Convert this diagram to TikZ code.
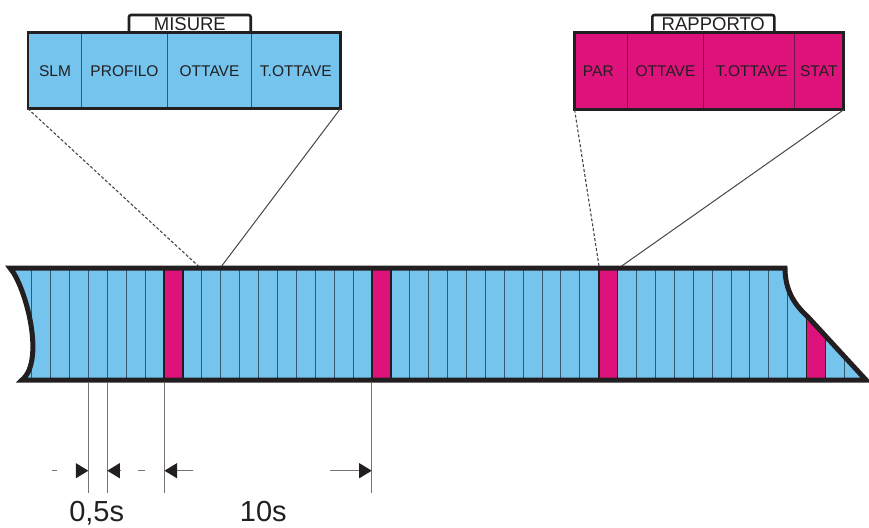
\documentclass[tikz,border=0pt]{standalone}
\usepackage{fontspec}
\setmainfont{Liberation Sans}
\usetikzlibrary{arrows.meta}
\definecolor{bandblue}{RGB}{116,196,238}
\definecolor{mag}{RGB}{221,18,122}
\definecolor{slotline}{RGB}{52,88,108}
\definecolor{magline}{RGB}{115,20,75}
\definecolor{ink}{RGB}{35,31,32}
\definecolor{dimgray}{RGB}{115,115,115}
\definecolor{fangray}{RGB}{70,70,70}
\tikzset{
  cellblue/.style={draw=slotline, line width=0.8pt, fill=bandblue, inner sep=0pt, minimum height=75pt, text=ink, font=\fontsize{15.5}{18}\selectfont},
  cellmag/.style={draw=magline, line width=0.8pt, fill=mag, inner sep=0pt, minimum height=76pt, text=ink, font=\fontsize{15.5}{18}\selectfont},
  tabbox/.style={draw=ink, line width=2.6pt, fill=white, rounded corners=2pt, inner sep=0pt, minimum height=18.3pt, text=ink, font=\fontsize{18.5}{20}\selectfont},
  boxframe/.style={draw=ink, line width=2.8pt},
  fandash/.style={draw=fangray, line width=1.1pt, dash pattern=on 3pt off 2pt},
  fansolid/.style={draw=fangray, line width=1pt},
  dimline/.style={draw=dimgray, line width=1pt},
  dimarrow/.style={draw=dimgray, line width=1pt, -{Triangle[length=12.5pt,width=15pt,color=ink,fill=ink]}},
  dimlabel/.style={anchor=base, text=ink, inner sep=0pt, font=\fontsize{29}{32}\selectfont},
  pinkslot/.style={fill=mag, draw=ink, line width=1.6pt},
  bandborder/.style={draw=ink, line width=5pt, line join=miter}
}
\begin{document}
\begin{tikzpicture}[x=1pt,y=-1pt]
\useasboundingbox (0,0) rectangle (869,527);

% ---------- MISURE box ----------
\node[tabbox, minimum width=121.7pt] (tabmis) at (189.85,24.2) {MISURE};
\node[cellblue, minimum width=53.4pt] (slm) at (55.0,70.8) {SLM};
\node[cellblue, minimum width=85.6pt] (profilo) at (124.5,70.8) {PROFILO};
\node[cellblue, minimum width=84.4pt] (ottave) at (209.5,70.8) {OTTAVE};
\node[cellblue, minimum width=88.3pt] (tottave) at (295.85,70.8) {T.OTTAVE};
\draw[boxframe] (slm.north west) rectangle (tottave.south east);

% ---------- RAPPORTO box ----------
\node[tabbox, minimum width=122pt] (tabrap) at (713.3,24.2) {RAPPORTO};
\node[cellmag, minimum width=52.7pt] (par) at (601.35,71.3) {\hspace*{-6pt}PAR};
\node[cellmag, minimum width=75.6pt] (ottaver) at (665.5,71.3) {OTTAVE};
\node[cellmag, minimum width=91pt] (tottaver) at (748.8,71.3) {\hspace*{6pt}T.OTTAVE};
\node[cellmag, minimum width=49pt] (stat) at (818.8,71.3) {STAT};
\draw[boxframe] (par.north west) rectangle (stat.south east);

% ---------- fan lines ----------
\coordinate (misL) at (198.3,266);
\coordinate (misR) at (221.7,266);
\coordinate (rapL) at (599.0,266);
\coordinate (rapR) at (621.7,266);
\draw[fandash] (slm.south west) -- (misL);
\draw[fansolid] (tottave.south east) -- (misR);
\draw[fandash] (par.south west) -- (rapL);
\draw[fansolid] (stat.south east) -- (rapR);

% ---------- band ----------
\def\bandpath{(10,268) -- (785,268) .. controls (785,292) and (796,306) .. (808,317) -- (866,380) -- (22,380) .. controls (46,360) and (25,285) .. (10,268) -- cycle}
\fill[bandblue] \bandpath;
\begin{scope}
  \clip \bandpath;
  \foreach \i in {0,...,43} {
    \draw[slotline, line width=0.9pt] ({31.7+18.9*\i},260) -- ({31.7+18.9*\i},390);
  }
  \foreach \i in {7,18,30,41} {
    \draw[pinkslot] ({31.7+18.9*\i},262) rectangle ({31.7+18.9*(\i+1)},386);
  }
\end{scope}
\draw[bandborder] \bandpath;

% ---------- dimension lines ----------
\coordinate (t1a) at (88.3,383);  \coordinate (t1b) at (88.3,493);
\coordinate (t2a) at (107.3,383); \coordinate (t2b) at (107.3,493);
\coordinate (t3a) at (164.5,383); \coordinate (t3b) at (164.5,493);
\coordinate (t4a) at (371.7,383); \coordinate (t4b) at (371.7,493);
\draw[dimline] (t1a) -- (t1b);
\draw[dimline] (t2a) -- (t2b);
\draw[dimline] (t3a) -- (t3b);
\draw[dimline] (t4a) -- (t4b);

\coordinate (a1s) at (76,470.7);  \coordinate (a1e) at (88.3,470.7);
\coordinate (a2s) at (120.5,470.7); \coordinate (a2e) at (107.3,470.7);
\coordinate (a3s) at (193.3,470.7); \coordinate (a3e) at (164.5,470.7);
\coordinate (a4s) at (330,470.7); \coordinate (a4e) at (371.7,470.7);
\coordinate (d1s) at (51.7,470.7); \coordinate (d1e) at (56.7,470.7);
\coordinate (d2s) at (137.5,470.7); \coordinate (d2e) at (145,470.7);
\draw[dimarrow] (a1s) -- (a1e);
\draw[dimarrow] (a2s) -- (a2e);
\draw[dimarrow] (a3s) -- (a3e);
\draw[dimarrow] (a4s) -- (a4e);
\draw[dimline] (d1s) -- (d1e);
\draw[dimline] (d2s) -- (d2e);

\node[dimlabel] (lab05) at (96.7,521.5) {0,5s};
\node[dimlabel] (lab10) at (263.3,521.5) {10s};
\end{tikzpicture}
\end{document}
